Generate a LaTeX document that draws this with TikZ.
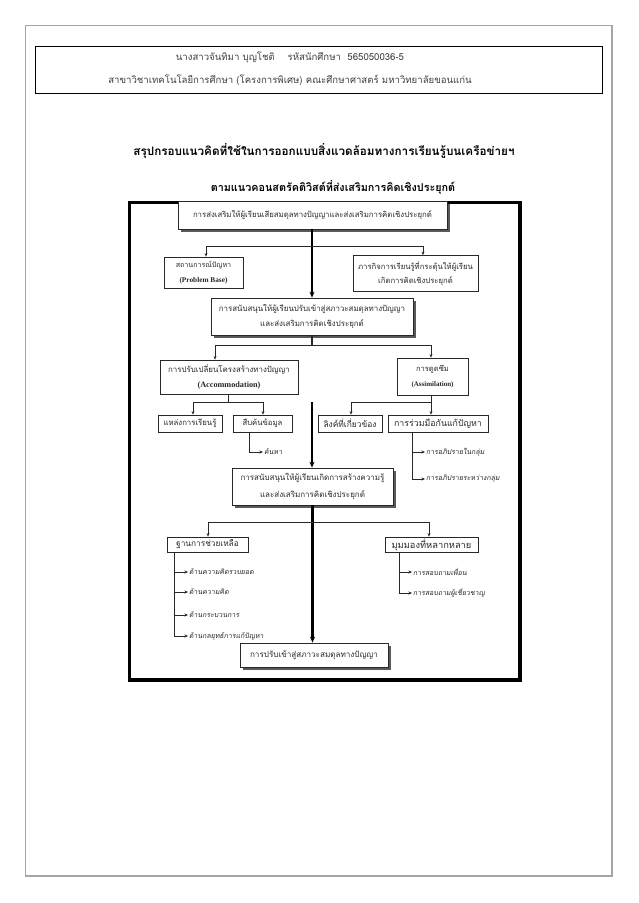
\documentclass[tikz,border=0pt]{standalone}
\usepackage{fontspec}
\setmainfont{Liberation Serif}
\newfontfamily\thai[Script=Thai]{Loma}
\newfontfamily\thaisl[Script=Thai,FakeSlant=0.15]{Loma}
\newcommand\engf[1]{\rmfamily\bfseries\fontsize{#1}{8}\selectfont}
\usetikzlibrary{arrows.meta}
\definecolor{pageframe}{RGB}{160,166,172}
\definecolor{ink}{RGB}{40,40,40}
\tikzset{
  box/.style={draw=ink,line width=0.8pt,fill=white,align=center,inner sep=0pt,text=ink,font=\thai\fontsize{7.4}{14.5}\selectfont},
  fs/.style={font=\thai\fontsize{#1}{14.5}\selectfont},
  shadowbox/.style={box,preaction={fill=black!65,transform canvas={shift={(3,3)}}}},
  thin/.style={draw=ink,line width=0.8pt},
  thick/.style={draw=black,line width=2.4pt},
  arr/.style={-{Stealth[length=3.5pt,width=3pt]}},
  tarr/.style={-{Stealth[length=6pt,width=5pt]}},
  sub/.style={anchor=west,inner sep=1pt,text=ink,font=\thaisl\fontsize{7}{8}\selectfont}
}
\begin{document}
\begin{tikzpicture}[x=1pt,y=-1pt]
\useasboundingbox (0,0) rectangle (638,903);
\fill[white] (0,0) rectangle (638,903);
% page frame
\draw[pageframe,line width=1.3pt] (25.5,25.5) rectangle (612,876);
% header box
\node[draw=black,line width=0.8pt,minimum width=567pt,minimum height=47pt,inner sep=0pt] (hdr) at (319,69.5) {};
\node[font=\thai\fontsize{9.6}{12}\selectfont,text=black!75] (h1) at (290,57) {นางสาวจันทิมา บุญโชติ \quad รหัสนักศึกษา \ 565050036-5};
\node[font=\thai\fontsize{9.6}{12}\selectfont,text=black!75] (h2) at (290,80) {สาขาวิชาเทคโนโลยีการศึกษา (โครงการพิเศษ) คณะศึกษาศาสตร์ มหาวิทยาลัยขอนแก่น};
% title
\node[font=\thai\bfseries\fontsize{11.7}{13}\selectfont] (t1) at (324,151) {สรุปกรอบแนวคิดที่ใช้ในการออกแบบสิ่งแวดล้อมทางการเรียนรู้บนเครือข่ายฯ};
\node[font=\thai\bfseries\fontsize{10.8}{13}\selectfont] (t2) at (333,187) {ตามแนวคอนสตรัคติวิสต์ที่ส่งเสริมการคิดเชิงประยุกต์};
% diagram frame
\draw[black,line width=3.5pt] (129.5,202.5) rectangle (520,680);
% boxes
\node[shadowbox,fs=7.8,minimum width=269pt,minimum height=28pt] (top) at (312.5,215) {การส่งเสริมให้ผู้เรียนเสียสมดุลทางปัญญาและส่งเสริมการคิดเชิงประยุกต์};
\node[box,fs=7.1,minimum width=79pt,minimum height=31pt] (ps) at (203.5,272.5) {สถานการณ์ปัญหา\\{\engf{7.3}(Problem Base)}};
\node[box,fs=7.7,minimum width=125pt,minimum height=36pt] (mis) at (415.5,273.5) {ภารกิจการเรียนรู้ที่กระตุ้นให้ผู้เรียน\\เกิดการคิดเชิงประยุกต์};
\node[shadowbox,fs=7.9,minimum width=202pt,minimum height=37pt] (b2) at (312,316.5) {การสนับสนุนให้ผู้เรียนปรับเข้าสู่สภาวะสมดุลทางปัญญา\\และส่งเสริมการคิดเชิงประยุกต์};
\node[box,fs=7.9,minimum width=138pt,minimum height=34pt] (acc) at (229,377) {การปรับเปลี่ยนโครงสร้างทางปัญญา\\{\engf{8.2}(Accommodation)}};
\node[box,fs=7.6,minimum width=71pt,minimum height=37pt] (asm) at (432.5,376.5) {การดูดซึม\\{\engf{7}(Assimilation)}};
\node[box,fs=7.8,minimum width=64pt,minimum height=17pt] (lr) at (190,423.5) {แหล่งการเรียนรู้};
\node[box,fs=7.7,minimum width=59pt,minimum height=17pt] (sk) at (262.5,423.5) {สืบค้นข้อมูล};
\node[box,fs=8.4,minimum width=64pt,minimum height=17pt] (lk) at (350,423.5) {ลิงค์ที่เกี่ยวข้อง};
\node[box,fs=8.8,minimum width=100pt,minimum height=17pt] (rm) at (438,423.5) {การร่วมมือกันแก้ปัญหา};
\node[shadowbox,minimum width=161pt,minimum height=37pt,font=\thai\fontsize{8}{16.5}\selectfont] (b3) at (312.5,486.5) {การสนับสนุนให้ผู้เรียนเกิดการสร้างความรู้\\และส่งเสริมการคิดเชิงประยุกต์};
\node[box,fs=8.3,minimum width=81pt,minimum height=15pt] (sc) at (207.5,544.5) {ฐานการช่วยเหลือ};
\node[box,fs=9.3,minimum width=93pt,minimum height=15pt] (mm) at (431.5,544.5) {มุมมองที่หลากหลาย};
\node[shadowbox,fs=8.1,minimum width=148pt,minimum height=24pt] (b4) at (314,655) {การปรับเข้าสู่สภาวะสมดุลทางปัญญา};
% sub labels
\node[sub] (s1) at (263,452) {ค้นหา};
\node[sub] (s2) at (425,452) {การอภิปรายในกลุ่ม};
\node[sub] (s3) at (425,479) {การอภิปรายระหว่างกลุ่ม};
\node[sub] (s4) at (188,572) {ด้านความคิดรวบยอด};
\node[sub] (s5) at (188,592) {ด้านความคิด};
\node[sub] (s6) at (188,615) {ด้านกระบวนการ};
\node[sub] (s7) at (188,636) {ด้านกลยุทธ์การแก้ปัญหา};
\node[sub] (s8) at (412,572) {การสอบถามเพื่อน};
\node[sub] (s9) at (412,593) {การสอบถามผู้เชี่ยวชาญ};
% junction coordinates
\coordinate (j1) at (312,246);
\coordinate (j2) at (312,345);
\coordinate (j3) at (312,402);
\coordinate (j4) at (312.5,522);
% main spine
\draw[thick,tarr] (top.south -| j1) -- (b2.north -| j1);
\draw[thin,line width=1.2pt] (b2.south) -- (j2);
\draw[thick,tarr] (j3) -- (b3.north -| j3);
\draw[thick,tarr] (b3.south) -- (b4.north -| b3.south);
% branch 1
\draw[thin,arr] (j1) -| ([xshift=2.5pt]ps.north);
\draw[thin,arr] (j1) -| ([xshift=7.5pt]mis.north);
% branch 2
\draw[thin,arr] (j2) -| ([xshift=-14pt]acc.north);
\draw[thin,arr] (j2) -| ([xshift=-1.5pt]asm.north);
% branch 3
\draw[thin] ([xshift=-1pt]acc.south) -- ([xshift=-1pt]acc.south |- j3);
\draw[thin,arr] ([xshift=-1.5pt]asm.south) -- ([xshift=-7pt]rm.north);
\draw[thin,arr] ([xshift=-1pt]acc.south |- j3) -| ([xshift=3pt]lr.north);
\draw[thin,arr] ([xshift=-1pt]acc.south |- j3) -| ([xshift=0.5pt]sk.north);
\draw[thin,arr] ([xshift=-1.5pt]asm.south |- j3) -| ([xshift=1pt]lk.north);
% sub arrows
\draw[thin,arr] ([xshift=-13.5pt]sk.south) |- (s1.west);
\draw[thin] ([xshift=-26pt]rm.south) -- ([xshift=-26pt]rm.south |- s3.west);
\draw[thin,arr] ([xshift=-26pt]rm.south |- s2.west) -- (s2.west);
\draw[thin,arr] ([xshift=-26pt]rm.south) |- (s3.west);
% branch 4
\draw[thin,arr] (j4) -| ([xshift=0.5pt]sc.north);
\draw[thin,arr] (j4) -| ([xshift=-2.5pt]mm.north);
\draw[thin,arr] ([xshift=-33.5pt]sc.south) |- (s7.west);
\foreach \s in {s4,s5,s6} \draw[thin,arr] ([xshift=-33.5pt]sc.south |- \s.west) -- (\s.west);
\draw[thin,arr] ([xshift=-32.5pt]mm.south) |- (s9.west);
\draw[thin,arr] ([xshift=-32.5pt]mm.south |- s8.west) -- (s8.west);
\end{tikzpicture}
\end{document}
